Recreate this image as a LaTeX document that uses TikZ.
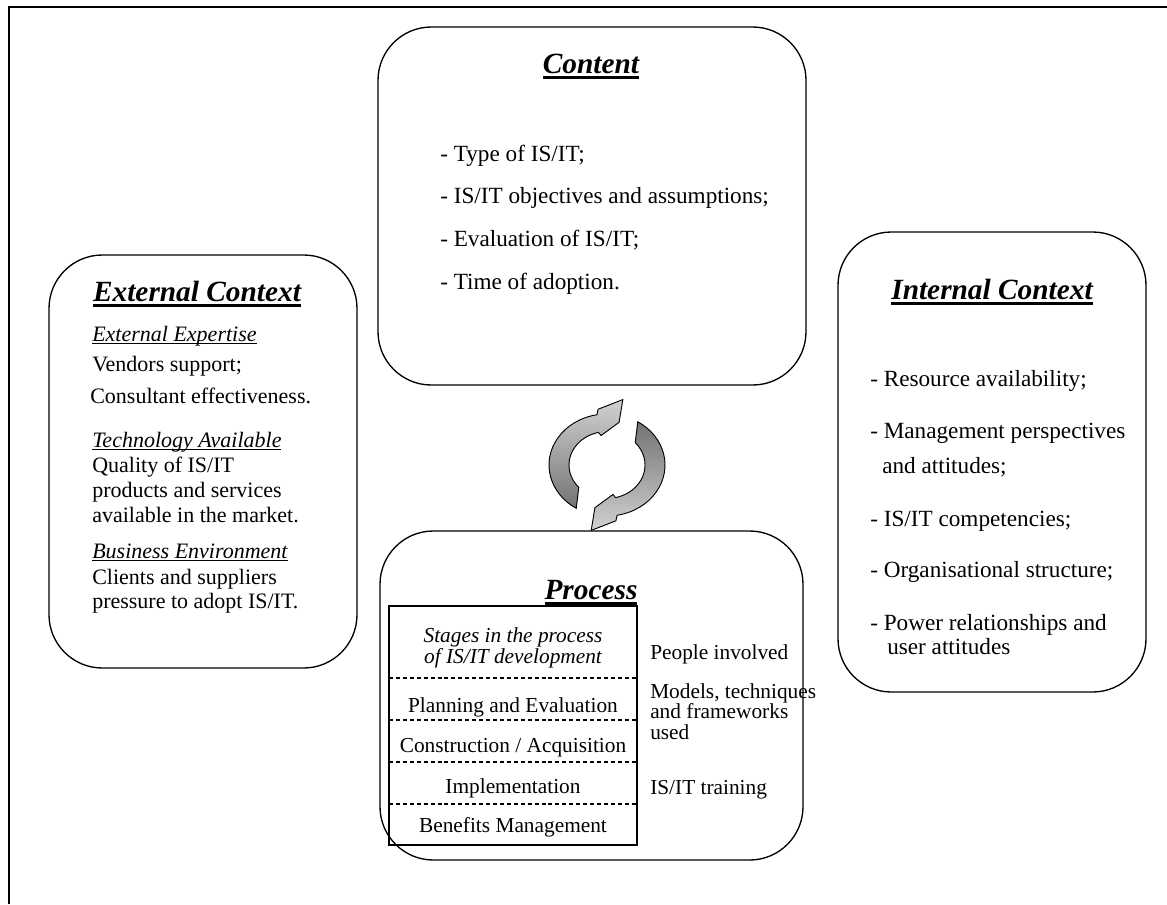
\documentclass[tikz,border=0pt]{standalone}
\usepackage{fontspec}
\setmainfont{Liberation Serif}
\newcommand{\ulin}[3]{\leavevmode\setbox0\hbox{#3}\rlap{\rule[-#2]{\wd0}{#1}}\box0}
\newcommand{\ttlx}[1]{\ulin{1.8pt}{4.3pt}{\bfseries\itshape #1}}
\newcommand{\subhd}[1]{\ulin{0.8pt}{2.6pt}{\itshape #1}}
\begin{document}
\begin{tikzpicture}[x=0.75pt,y=-0.75pt,
  box/.style={draw, line width=1pt, rounded corners=40pt},
  ttlnode/.style={anchor=base, inner sep=0pt, font=\fontsize{22}{26}\selectfont},
  bodytxt/.style={anchor=base west, inner sep=0pt, font=\fontsize{17.4}{20}\selectfont},
  exttxt/.style={anchor=base west, inner sep=0pt, font=\fontsize{16.5}{20}\selectfont},
  tabtxt/.style={anchor=base, inner sep=0pt, font=\fontsize{16}{19}\selectfont},
  coltxt/.style={anchor=base west, inner sep=0pt, font=\fontsize{16}{19}\selectfont},
  sep/.style={line width=0.9pt, dash pattern=on 3pt off 2.2pt},
  circarrow/.style={draw, line width=0.7pt}]
\useasboundingbox (0,0) rectangle (1167,904);
% outer frame
\draw[line width=1.1pt] (9,904) -- (9,7) -- (1167,7);

% boxes
\draw[box] (378,27) rectangle (806,385);
\draw[box] (49,255) rectangle (357,668);
\draw[box] (838,232) rectangle (1146,692);
\draw[box] (380,531) rectangle (803,860);

% Content
\node[ttlnode] (ctitle) at (591,73) {\ttlx{Content}};
\node[bodytxt] (c1) at (440,161) {- Type of IS/IT;};
\node[bodytxt] (c2) at (440,203) {- IS/IT objectives and assumptions;};
\node[bodytxt] (c3) at (440,246) {- Evaluation of IS/IT;};
\node[bodytxt] (c4) at (440,289) {- Time of adoption.};

% External
\node[ttlnode] (etitle) at (197,301) {\ttlx{External Context}};
\node[exttxt] (e1) at (92,341) {\subhd{External Expertise}};
\node[exttxt] (e2) at (92,371) {Vendors support;};
\node[exttxt] (e3) at (90,403) {Consultant effectiveness.};
\node[exttxt] (e4) at (92,447) {\subhd{Technology Available}};
\node[exttxt] (e5) at (92,472) {Quality of IS/IT};
\node[exttxt] (e6) at (92,497) {products and services};
\node[exttxt] (e7) at (92,522) {available in the market.};
\node[exttxt] (e8) at (92,558) {\subhd{Business Environment}};
\node[exttxt] (e9) at (92,584) {Clients and suppliers};
\node[exttxt] (e10) at (92,608) {pressure to adopt IS/IT.};

% Internal
\node[ttlnode] (ititle) at (992,299) {\ttlx{Internal Context}};
\node[bodytxt] (i1) at (870,386) {- Resource availability;};
\node[bodytxt] (i2) at (870,438) {- Management perspectives};
\node[bodytxt] (i3) at (882,473) {and attitudes;};
\node[bodytxt] (i4) at (870,526) {- IS/IT competencies;};
\node[bodytxt] (i5) at (870,577) {- Organisational structure;};
\node[bodytxt] (i6) at (870,630) {- Power relationships and};
\node[bodytxt] (i7) at (887,654) {user attitudes};

% Process
\node[ttlnode] (ptitle) at (591,599) {\ttlx{Process}};
\draw[line width=1pt] (389,606) rectangle (637,845);
\draw[sep] (389,678) -- (637,678);
\draw[sep] (389,720) -- (637,720);
\draw[sep] (389,762) -- (637,762);
\draw[sep] (389,804) -- (637,804);
\node[tabtxt] (t1) at (513,642) {\itshape Stages in the process};
\node[tabtxt] (t2) at (513,663) {\itshape of IS/IT development};
\node[tabtxt] (t3) at (513,712) {Planning and Evaluation};
\node[tabtxt] (t4) at (513,752) {Construction / Acquisition};
\node[tabtxt] (t5) at (513,793) {Implementation};
\node[tabtxt] (t6) at (513,832) {Benefits Management};
\node[coltxt] (r1) at (650,659) {People involved};
\node[coltxt] (r2) at (650,698) {Models, techniques};
\node[coltxt] (r3) at (650,718) {and frameworks};
\node[coltxt] (r4) at (650,739) {used};
\node[coltxt] (r5) at (650,794) {IS/IT training};

% circular arrows
\begin{scope}[shift={(607,465)}, yscale=-0.88]
  \shade[circarrow, top color=black!18, bottom color=black!55]
    (238:58) arc[start angle=238, end angle=100, radius=58]
    -- (98:64) -- (78:76) -- (76:50) -- (100:34)
    -- (103:38) arc[start angle=103, end angle=222, radius=38] -- cycle;
  \shade[circarrow, top color=black!55, bottom color=black!18]
    (58:58) arc[start angle=58, end angle=-80, radius=58]
    -- (278:64) -- (258:76) -- (256:50) -- (280:34)
    -- (283:38) arc[start angle=-77, end angle=42, radius=38] -- cycle;
\end{scope}
\end{tikzpicture}
\end{document}
